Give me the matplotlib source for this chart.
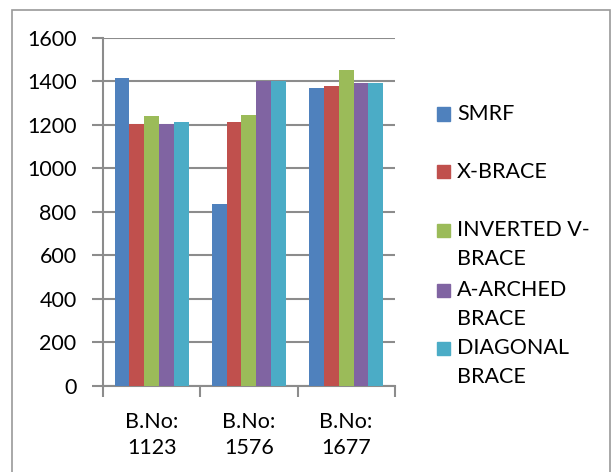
import numpy as np
import matplotlib
matplotlib.use('Agg')
import matplotlib.pyplot as plt
from matplotlib.patches import Rectangle

plt.rcParams['font.family'] = ['Lato', 'DejaVu Sans']

categories = ['B.No:\n1123', 'B.No:\n1576', 'B.No:\n1677']
series_names = ['SMRF', 'X-BRACE', 'INVERTED V-\nBRACE', 'A-ARCHED\nBRACE', 'DIAGONAL\nBRACE']
smrf = [1415, 836, 1368]
x_brace = [1204, 1212, 1380]
inverted_v = [1242, 1247, 1451]
a_arched = [1205, 1402, 1393]
diagonal = [1212, 1402, 1393]
colors_list = ['#4F81BD', '#C0504D', '#9BBB59', '#8064A2', '#4BACC6']

all_series = [smrf, x_brace, inverted_v, a_arched, diagonal]
FS = 15.5

fig = plt.figure(figsize=(6.13, 4.72), dpi=100)
ax = fig.add_axes([0.168, 0.183, 0.476, 0.737])

x = np.arange(len(categories))
bw = 0.152
for i, vals in enumerate(all_series):
    ax.bar(x + (i - 2) * bw, vals, bw, color=colors_list[i], zorder=3)

ax.set_ylim(0, 1600)
ax.set_xlim(-0.5, 2.5)
ax.set_yticks(np.arange(0, 1601, 200))
ax.yaxis.grid(True, color='#8c8c8c', linewidth=1.5, zorder=0)
ax.set_xticks([-0.5, 0.5, 1.5, 2.5])
ax.set_xticklabels([])
ax.set_xticks(x, minor=True)
ax.set_xticklabels(categories, minor=True, fontsize=FS, linespacing=1.35)
ax.tick_params(axis='x', which='minor', length=0, pad=19)
ax.tick_params(axis='x', which='major', length=8, width=1.5, color='#8c8c8c')
ax.tick_params(axis='y', length=8, width=1.5, color='#8c8c8c', labelsize=FS, pad=11)
for s in ['top', 'right']:
    ax.spines[s].set_visible(False)
for s in ['left', 'bottom']:
    ax.spines[s].set_color('#8c8c8c')
    ax.spines[s].set_linewidth(1.5)

# legend drawn by hand, one slot per series like the original
W, H = 613, 472
slot_tops = [114, 172, 230, 290, 348]
for i, name in enumerate(series_names):
    yc = slot_tops[i]
    fig.add_artist(Rectangle((437 / W, 1 - (yc + 6.5) / H), 13 / W, 13 / H,
                             transform=fig.transFigure, color=colors_list[i]))
    for k, line in enumerate(name.split('\n')):
        fig.text(457 / W, 1 - (yc + 29 * k) / H, line, fontsize=FS,
                 va='center', ha='left', transform=fig.transFigure)

fig.add_artist(Rectangle((12 / W, -0.05), 598 / W, 1 - 10 / H + 0.05,
                         transform=fig.transFigure, fill=False,
                         edgecolor='#9a9a9a', linewidth=1.2))

fig.savefig('out.png', dpi=100)
